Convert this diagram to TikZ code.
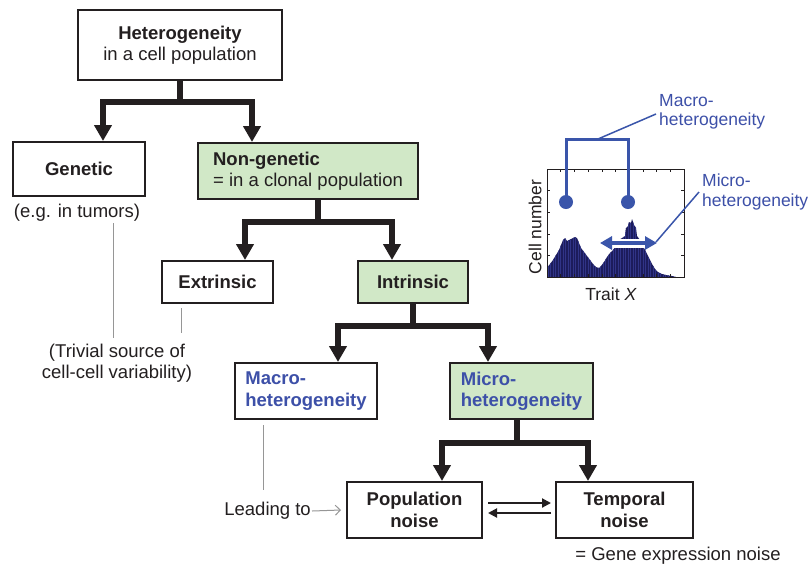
\documentclass[tikz,border=0pt]{standalone}
\usepackage{fontspec}
\setmainfont{Liberation Sans}
\usetikzlibrary{arrows.meta,calc}
\definecolor{ink}{RGB}{35,31,32}
\definecolor{boxgreen}{RGB}{209,232,199}
\definecolor{tblue}{RGB}{61,80,168}
\definecolor{lblue}{RGB}{58,85,170}
\definecolor{navy}{RGB}{28,28,92}
\definecolor{barblue}{RGB}{48,52,135}
\definecolor{grayline}{RGB}{150,150,150}
\newcommand\boxfont{\fontsize{18.5}{21.5}\selectfont}
\newcommand\lblfont{\fontsize{17.5}{19.5}\selectfont}
\begin{document}
\begin{tikzpicture}[x=1pt,y=-1pt,
  box/.style={draw=ink, line width=2pt, fill=white, inner sep=0pt, align=center, text=ink, font=\boxfont\bfseries},
  greenbox/.style={box, fill=boxgreen},
  conn/.style={draw=ink, line width=5.5pt, line join=miter, -{Triangle[width=17pt,length=16pt]}},
  thinarrow/.style={draw=ink, line width=2pt, -{Triangle[width=9pt,length=9pt]}},
  note/.style={inner sep=0pt, text=ink, font=\boxfont, align=center},
  gline/.style={draw=grayline, line width=1pt},
  bluelbl/.style={inner sep=0pt, text=tblue, font=\lblfont, align=left, anchor=west},
]
\fill[white] (0,0) rectangle (809,566);
\useasboundingbox (0,0) rectangle (809,566);

% boxes
\node[box, minimum width=204pt, minimum height=70pt] (het) at (180,45) {Heterogeneity\\{\mdseries in a cell population}};
\node[box, minimum width=132pt, minimum height=54pt] (gen) at (79,169) {Genetic};
\node[greenbox, minimum width=220pt, minimum height=56pt, align=left] (nongen) at (308,171) {Non-genetic\\{\mdseries = in a clonal population}};
\node[box, minimum width=111pt, minimum height=42pt] (ext) at (217.5,282) {Extrinsic};
\node[greenbox, minimum width=110pt, minimum height=42pt] (intr) at (413,282) {Intrinsic};
\node[box, minimum width=142pt, minimum height=56pt, align=left, text=tblue] (macro) at (306,391) {Macro-\\heterogeneity};
\node[greenbox, minimum width=143pt, minimum height=56pt, align=left, text=tblue] (micro) at (521.5,391) {Micro-\\heterogeneity};
\node[box, minimum width=135pt, minimum height=56pt] (pop) at (414.5,510) {Population\\noise};
\node[box, minimum width=137pt, minimum height=56pt] (temp) at (624.5,510) {Temporal\\noise};

% tree connectors
\draw[conn] (het.south) -- ++(0,21) -| ([xshift=24pt]gen.north);
\draw[conn] (het.south) -- ++(0,21) -| ([xshift=-56pt]nongen.north);
\draw[conn] ([xshift=10pt]nongen.south) -- ++(0,22) -| ([xshift=27.5pt]ext.north);
\draw[conn] ([xshift=10pt]nongen.south) -- ++(0,22) -| ([xshift=-21pt]intr.north);
\draw[conn] (intr.south) -- ++(0,22) -| ([xshift=32pt]macro.north);
\draw[conn] (intr.south) -- ++(0,22) -| ([xshift=-33.5pt]micro.north);
\draw[conn] ([xshift=-4.5pt]micro.south) -- ++(0,23) -| ([xshift=27.5pt]pop.north);
\draw[conn] ([xshift=-4.5pt]micro.south) -- ++(0,23) -| ([xshift=-36.5pt]temp.north);

% double arrows
\draw[thinarrow] ([shift={(5pt,7pt)}]pop.east) -- ([shift={(-4pt,7pt)}]temp.west);
\draw[thinarrow] ([shift={(-4pt,-3pt)}]temp.west) -- ([shift={(5pt,-3pt)}]pop.east);

% notes
\node[note] (eg) at (77,213) {(e.g. in tumors)};
\node[note] (trivial) at (117,363) {(Trivial source of\\cell-cell variability)};
\node[note, anchor=east] (lead) at (311,511) {Leading to};
\node[note] (gene) at (678,556) {= Gene expression noise};

\coordinate (g1a) at (113,223);
\coordinate (g1b) at (113,338);
\coordinate (g2a) at (181,308);
\coordinate (g2b) at (181,333);
\coordinate (g3a) at (263,425);
\coordinate (g3b) at (263,490);
\draw[gline] (g1a) -- (g1b);
\draw[gline] (g2a) -- (g2b);
\draw[gline] (g3a) -- (g3b);
\draw[gline, -{Straight Barb[length=5pt,width=10pt]}] ([xshift=1pt]lead.east) -- ([xshift=-5pt]pop.west);

% inset histogram
\begin{scope}
\clip (547,277) -- (547,268) -- (550,264) -- (553,260) -- (556,255) -- (559,250) -- (561,245) -- (563,240) -- (565,238) -- (567,241) -- (569,240) -- (571,239) -- (573,238) -- (575,237) -- (577,238) -- (579,243) -- (581,248) -- (584,252) -- (587,256) -- (590,260) -- (593,264) -- (596,267) -- (599,268) -- (601,266) -- (604,262) -- (607,257) -- (610,253) -- (613,250) -- (616,246) -- (619,240) -- (622,238) -- (625,236) -- (626,228) -- (628,226) -- (629,222) -- (631,223) -- (632,219) -- (634,225) -- (636,228) -- (637,236) -- (640,240) -- (643,246) -- (646,252) -- (649,258) -- (652,264) -- (655,269) -- (658,272) -- (662,274) -- (666,275) -- (672,276) -- (676,277) -- cycle;
\fill[navy] (547,169) rectangle (684,277);
\foreach \x in {548,550.5,...,684} \draw[barblue, line width=0.7pt] (\x,169) -- (\x,277);
\end{scope}
\draw[ink, line width=0.8pt] (547,169) rectangle (684,277);
\foreach \x in {560.7,574.4,...,680} {\draw[ink, line width=0.5pt] (\x,169) -- (\x,172); \draw[ink, line width=0.5pt] (\x,277) -- (\x,274);}
\foreach \y in {190.6,212.2,233.8,255.4} {\draw[ink, line width=0.5pt] (547,\y) -- (550,\y); \draw[ink, line width=0.5pt] (684,\y) -- (681,\y);}

\node[inner sep=0pt, text=ink, font=\lblfont, rotate=90] (cellnum) at (535,227) {Cell number};
\node[inner sep=0pt, text=ink, font=\lblfont] (trait) at (611,294) {Trait \textit{X}};

% macro bracket
\coordinate (dotL) at (566,202);
\coordinate (dotR) at (628,202);
\coordinate (brk) at (598,139);
\draw[lblue, line width=3pt, line join=miter] (dotL) -- (566,139) -- (628,139) -- (dotR);
\fill[lblue] (dotL) circle (7pt);
\fill[lblue] (dotR) circle (7pt);
\node[bluelbl] (maclbl) at (659,112) {Macro-\\heterogeneity};
\draw[lblue, line width=1.5pt] (brk) -- ([xshift=-3pt,yshift=-2pt]maclbl.west);

% micro double arrow
\coordinate (daL) at (600,243);
\coordinate (daR) at (657,243);
\draw[white, line width=9pt] ([xshift=3pt]daL) -- ([xshift=-3pt]daR);
\draw[lblue, line width=4pt, {Triangle[width=13pt,length=12pt]}-{Triangle[width=13pt,length=12pt]}] (daL) -- (daR);
\node[bluelbl] (miclbl) at (702,192) {Micro-\\heterogeneity};
\draw[lblue, line width=1.5pt] (656,242) -- ([xshift=-3pt]miclbl.west);
\end{tikzpicture}
\end{document}
